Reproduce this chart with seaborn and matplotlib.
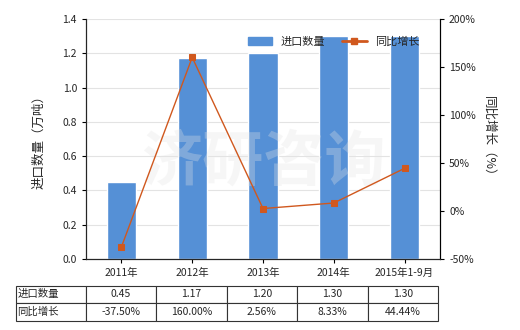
import matplotlib
matplotlib.use("Agg")
import matplotlib.pyplot as plt
import seaborn as sns
import pandas as pd
from matplotlib.lines import Line2D
from matplotlib.patches import Patch

categories = ["2011年", "2012年", "2013年", "2014年", "2015年1-9月"]
import_qty = [0.45, 1.17, 1.20, 1.30, 1.30]
growth = [-37.50, 160.00, 2.56, 8.33, 44.44]
qty_labels = ["0.45", "1.17", "1.20", "1.30", "1.30"]
growth_labels = ["-37.50%", "160.00%", "2.56%", "8.33%", "44.44%"]

sns.set_style("white")
plt.rcParams['font.family'] = ['Noto Sans CJK SC', 'DejaVu Sans']

bar_color = "#5590d6"
line_color = "#d0581e"

fig = plt.figure(figsize=(5.2, 3.3), dpi=100)
ax = fig.add_axes([86/520, 71/330, 354/520, 240/330])

df = pd.DataFrame({"cat": categories, "qty": import_qty, "pos": range(len(categories)), "g": growth})
sns.barplot(data=df, x="cat", y="qty", ax=ax, color=bar_color, width=0.41, saturation=1, zorder=2)
ax.set_ylim(0, 1.4)
ax.set_yticks([0, 0.2, 0.4, 0.6, 0.8, 1.0, 1.2, 1.4])
ax.set_yticklabels(["0.0", "0.2", "0.4", "0.6", "0.8", "1.0", "1.2", "1.4"])
ax.set_xlim(-0.5, 4.5)
ax.yaxis.grid(True, color="#e3e3e3", linewidth=0.8, zorder=0)
ax.set_axisbelow(True)
ax.set_xlabel("")
ax.set_ylabel("进口数量（万吨）", fontsize=9, labelpad=12)
for s in ["left", "bottom", "right"]:
    ax.spines[s].set_color("black")
    ax.spines[s].set_linewidth(0.8)
ax.spines["top"].set_visible(False)
ax.tick_params(axis="both", labelsize=7.5, length=3, direction="out", color="black", left=True, bottom=True)

ax2 = ax.twinx()
sns.lineplot(data=df, x="pos", y="g", ax=ax2, color=line_color, marker="s", markersize=4.5,
             markeredgecolor=line_color, linewidth=1, zorder=3)
ax2.set_ylim(-50, 200)
ax2.set_yticks([-50, 0, 50, 100, 150, 200])
ax2.set_yticklabels(["-50%", "0%", "50%", "100%", "150%", "200%"])
ax2.set_xlim(-0.5, 4.5)
ax2.set_ylabel("同比增长（%）", fontsize=9, rotation=270, labelpad=14)
ax2.spines["top"].set_visible(False)
ax2.spines["right"].set_color("black")
ax2.spines["right"].set_linewidth(0.8)
ax2.tick_params(axis="y", labelsize=7.5, length=3, direction="out", color="black", right=True)

# watermark
ax.text(0.5, 0.40, "济研咨询", transform=ax.transAxes, fontsize=44, color="#e4e4e4",
        alpha=0.3, ha="center", va="center", zorder=5, fontweight="bold")

handles = [Patch(color=bar_color), Line2D([0], [0], color=line_color, marker="s", markersize=4, linewidth=2)]
ax2.legend(handles, ["进口数量", "同比增长"], loc="upper center", bbox_to_anchor=(0.7, 0.97),
           ncol=2, frameon=False, fontsize=8, handlelength=2.2, columnspacing=1.5)

# table
cell_text = [["进口数量"] + qty_labels, ["同比增长"] + growth_labels]
tbl = ax.table(cellText=cell_text, cellLoc="center",
               bbox=[-0.1986, -0.257, 1.193, 0.146],
               colWidths=[0.166] + [0.1668] * 5)
tbl.auto_set_font_size(False)
tbl.set_fontsize(7.5)
for (r, c), cell in tbl.get_celld().items():
    cell.set_edgecolor("#333333")
    cell.set_linewidth(0.8)
    if c == 0:
        cell.get_text().set_ha("left")
        cell.PAD = 0.02

fig.savefig("out.png", dpi=100)
